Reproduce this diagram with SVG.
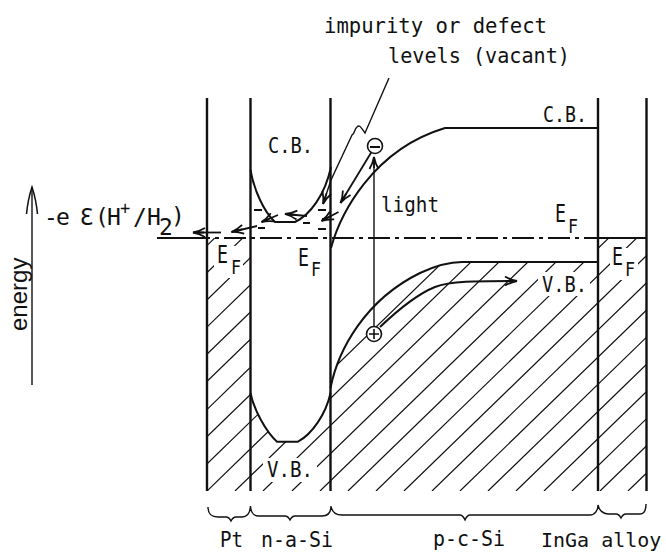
<svg xmlns="http://www.w3.org/2000/svg" width="666" height="553" viewBox="0 0 666 553">
<style>
text{font-family:"DejaVu Sans Mono","Liberation Mono",monospace;font-size:22px;fill:#111}
.e{font-size:24px}
.f{font-size:20px}
.big{font-size:23px}
.wall{stroke:#111;stroke-width:2.4;fill:none}
.band{stroke:#111;stroke-width:2;fill:none}
.thin{stroke:#111;stroke-width:1.4;fill:none}
.hatch{stroke:#111;stroke-width:1.2;fill:none}
.arrow{stroke:#111;stroke-width:1.8;fill:none;marker-end:url(#head)}
.w{fill:#fff}
</style>
<defs>
<marker id="head" markerUnits="userSpaceOnUse" markerWidth="16" markerHeight="12" refX="14" refY="6" orient="auto" viewBox="0 0 16 12"><path d="M2,1.5 Q8,5 14,6 Q8,7 2,10.5 M3,6 H14" fill="none" stroke="#111" stroke-width="1.8"/></marker>
<marker id="tall" markerUnits="userSpaceOnUse" markerWidth="30" markerHeight="14" refX="27" refY="7" orient="auto" viewBox="0 0 30 14"><path d="M0,1.5 Q15,3 27,7 Q15,11 0,12.5" fill="none" stroke="#111" stroke-width="1.5"/></marker>
<clipPath id="regions">
<rect x="207" y="238" width="43.5" height="253"/>
<path d="M250.5,393 C254,410 266,432 277,441.7 L298,441.7 C312,434 326,414 330.5,393 L330.5,491 L250.5,491 Z"/>
<path d="M330.5,388 C338,350 365,300 420,273 C435,266 447,262 462,262 L598,262 L598,491 L330.5,491 Z"/>
<rect x="598" y="238" width="48.5" height="253"/>
</clipPath>
</defs>
<rect width="666" height="553" fill="#fff"/>
<g id="hatching" clip-path="url(#regions)">
<path class="hatch" d="M-46,491 l270,-262 M-18,491 l270,-262 M10,491 l270,-262 M38,491 l270,-262 M66,491 l270,-262 M94,491 l270,-262 M123,491 l270,-262 M151,491 l270,-262 M179,491 l270,-262 M207,491 l270,-262 M235,491 l270,-262 M263,491 l270,-262 M292,491 l270,-262 M320,491 l270,-262 M348,491 l270,-262 M376,491 l270,-262 M404,491 l270,-262 M432,491 l270,-262 M460,491 l270,-262 M488,491 l270,-262 M516,491 l270,-262 M544,491 l270,-262 M572,491 l270,-262 M600,491 l270,-262 M628,491 l270,-262"/>
<rect class="w" x="263" y="458" width="54" height="24"/>
<rect class="w" x="538" y="272" width="52" height="24"/>
<rect class="w" x="610" y="248" width="28" height="32"/>
<rect class="w" x="214" y="246" width="29" height="32"/>
</g>
<g id="walls">
<path class="wall" d="M207,98 V491 M250.5,98 V491 M330.5,98 V491 M598,98 V491 M646.5,98 V491"/>
</g>
<g id="bands">
<path class="band" d="M250.5,170 C254,190 264,212 275,222 L295,222 C310,215 325,195 331,167"/>
<path class="band" d="M250.5,393 C254,410 266,432 277,441.7 L298,441.7 C312,434 326,414 330.5,393"/>
<path class="band" d="M331,248 C340,215 372,150 445,128 L598,128"/>
<path class="band" d="M330.5,388 C338,350 365,300 420,273 C435,266 447,262 462,262 L598,262"/>
<path class="band" d="M598,238 H646.5"/>
<path class="band" d="M157,238 H188"/>
<path class="band" stroke-dasharray="22 5 4 5" d="M188,238 H598"/>
<path class="band" d="M254,210 h8 M318,210 h8 M322,219 h5 M303,223 h7 M318,229 h8 M258,228 h7"/>
</g>
<g id="connectors">
<path class="thin" d="M389,78 L365,133 C361,128 360,124 357,127 C354,129 355,134 352,135 L331,180 L323,204" marker-end="url(#head)"/>
<path class="arrow" d="M371.5,152 L340.5,203"/>
<path class="arrow" d="M338.5,212 L321.5,221"/>
<path class="arrow" d="M307,216 L285,214"/>
<path class="arrow" d="M278,215 L261.5,222"/>
<path class="arrow" d="M257,226 L231.5,232"/>
<path class="arrow" d="M221,232.5 H193"/>
<path class="thin" d="M374,326 V157" marker-end="url(#head)"/>
<path class="band" d="M380,327 C400,308 420,293 435,287 C450,281 475,281 517,281" marker-end="url(#head)"/>
<path class="thin" d="M32,385 V187" marker-end="url(#tall)"/>
</g>
<g id="carriers">
<circle cx="375" cy="146" r="7.5" fill="#fff" stroke="#111" stroke-width="1.6"/>
<path d="M370,147 h10" stroke="#111" stroke-width="2"/>
<circle cx="374" cy="334" r="7.5" fill="#fff" stroke="#111" stroke-width="1.6"/>
<path d="M369,334 h10 M374,329 v10" stroke="#111" stroke-width="1.6"/>
</g>
<g id="braces">
<path class="thin" d="M208,507 C208,515 212,517 218,517 H226 C229,517 230,519 231,521 C232,519 233,517 236,517 H242 C247,517 250,514 250.5,506 C251,514 254,516 259,516 H285 C288,516 289,518 290,520 C291,518 292,516 295,516 H322 C327,516 331,513 331,506 C332,513 336,515 342,515 H460 C463,515 464,518 465,520 C466,518 467,515 470,515 H590 C595,515 598,510 598,505 C599,510 603,514 608,514 H616 C619,514 620,516 621,518 C622,516 623,514 626,514 H640 C644,514 646,510 646,504"/>
</g>
<g id="labels">
<text x="324" y="33" textLength="223" lengthAdjust="spacingAndGlyphs">impurity or defect</text>
<text x="388" y="63" textLength="182" lengthAdjust="spacingAndGlyphs">levels (vacant)</text>
<text x="268" y="153" textLength="45" lengthAdjust="spacingAndGlyphs">C.B.</text>
<text x="543" y="122" textLength="44" lengthAdjust="spacingAndGlyphs">C.B.</text>
<text x="381" y="212" textLength="58" lengthAdjust="spacingAndGlyphs">light</text>
<text x="542" y="292" textLength="45" lengthAdjust="spacingAndGlyphs">V.B.</text>
<text x="267" y="477" textLength="46" lengthAdjust="spacingAndGlyphs">V.B.</text>
<text class="e" x="555" y="222" textLength="11" lengthAdjust="spacingAndGlyphs">E</text><text class="f" x="568" y="233" textLength="10" lengthAdjust="spacingAndGlyphs">F</text>
<text class="e" x="612" y="265" textLength="11" lengthAdjust="spacingAndGlyphs">E</text><text class="f" x="625" y="276" textLength="10" lengthAdjust="spacingAndGlyphs">F</text>
<text class="e" x="217" y="263" textLength="11" lengthAdjust="spacingAndGlyphs">E</text><text class="f" x="231" y="274" textLength="10" lengthAdjust="spacingAndGlyphs">F</text>
<text class="e" x="298" y="266" textLength="11" lengthAdjust="spacingAndGlyphs">E</text><text class="f" x="311" y="276" textLength="10" lengthAdjust="spacingAndGlyphs">F</text>
<text class="big" y="225"><tspan x="44 56">-e</tspan><tspan x="80">Ɛ</tspan><tspan x="95 107">(H</tspan><tspan x="120" y="214" style="font-size:17px">+</tspan><tspan x="133 147" y="225">/H</tspan><tspan x="159" y="235">2</tspan><tspan x="171" y="224">)</tspan></text>
<text x="220" y="547" textLength="23" lengthAdjust="spacingAndGlyphs">Pt</text>
<text x="261" y="547" textLength="72" lengthAdjust="spacingAndGlyphs">n-a-Si</text>
<text x="433" y="546" textLength="72" lengthAdjust="spacingAndGlyphs">p-c-Si</text>
<text x="541" y="547" style="font-size:20px">InGa alloy</text>
<text transform="translate(27,331) rotate(-90)" style="font-family:'Liberation Sans',Arial,sans-serif;font-size:24px">energy</text>
</g>
</svg>
